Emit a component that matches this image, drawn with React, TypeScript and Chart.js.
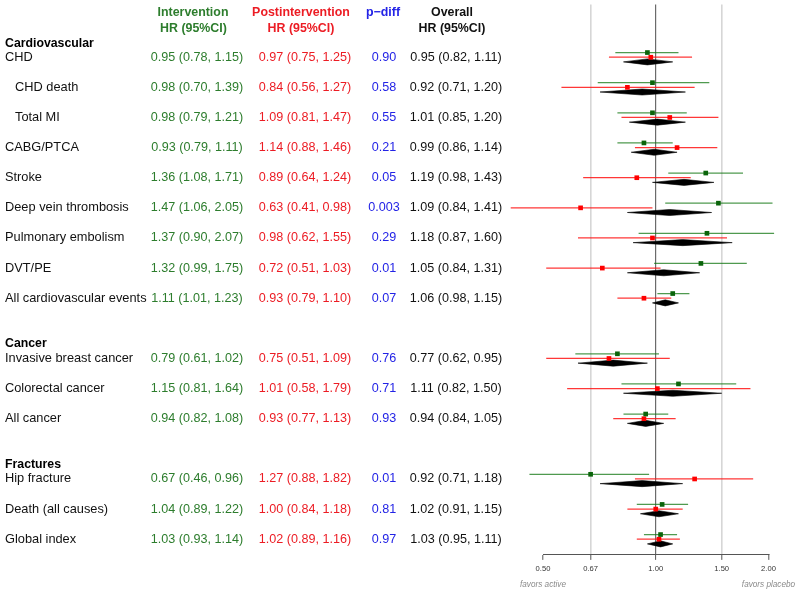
import React, { useEffect, useRef } from 'react';
import { Chart, registerables } from 'chart.js';

Chart.register(...registerables);

// ---------- data ----------
const rowLabels = [
  'CHD', 'CHD death', 'Total MI', 'CABG/PTCA', 'Stroke', 'Deep vein thrombosis',
  'Pulmonary embolism', 'DVT/PE', 'All cardiovascular events',
  'Invasive breast cancer', 'Colorectal cancer', 'All cancer',
  'Hip fracture', 'Death (all causes)', 'Global index',
];
const rowIndex = [0, 1, 2, 3, 4, 5, 6, 7, 8, 10, 11, 12, 14, 15, 16];
const rowIndented = [false, true, true, false, false, false, false, false, false, false, false, false, false, false, false];

const sectionTitles = ['Cardiovascular', 'Cancer', 'Fractures'];
const sectionIndex = [-0.46, 9.52, 13.52];

const intEst = [0.95, 0.98, 0.98, 0.93, 1.36, 1.47, 1.37, 1.32, 1.11, 0.79, 1.15, 0.94, 0.67, 1.04, 1.03];
const intLo = [0.78, 0.70, 0.79, 0.79, 1.08, 1.06, 0.90, 0.99, 1.01, 0.61, 0.81, 0.82, 0.46, 0.89, 0.93];
const intHi = [1.15, 1.39, 1.21, 1.11, 1.71, 2.05, 2.07, 1.75, 1.23, 1.02, 1.64, 1.08, 0.96, 1.22, 1.14];

const postEst = [0.97, 0.84, 1.09, 1.14, 0.89, 0.63, 0.98, 0.72, 0.93, 0.75, 1.01, 0.93, 1.27, 1.00, 1.02];
const postLo = [0.75, 0.56, 0.81, 0.88, 0.64, 0.41, 0.62, 0.51, 0.79, 0.51, 0.58, 0.77, 0.88, 0.84, 0.89];
const postHi = [1.25, 1.27, 1.47, 1.46, 1.24, 0.98, 1.55, 1.03, 1.10, 1.09, 1.79, 1.13, 1.82, 1.18, 1.16];

const pDiff = ['0.90', '0.58', '0.55', '0.21', '0.05', '0.003', '0.29', '0.01', '0.07', '0.76', '0.71', '0.93', '0.01', '0.81', '0.97'];

const ovEst = [0.95, 0.92, 1.01, 0.99, 1.19, 1.09, 1.18, 1.05, 1.06, 0.77, 1.11, 0.94, 0.92, 1.02, 1.03];
const ovLo = [0.82, 0.71, 0.85, 0.86, 0.98, 0.84, 0.87, 0.84, 0.98, 0.62, 0.82, 0.84, 0.71, 0.91, 0.95];
const ovHi = [1.11, 1.20, 1.20, 1.14, 1.43, 1.41, 1.60, 1.31, 1.15, 0.95, 1.50, 1.05, 1.18, 1.15, 1.11];

const xTicks = [0.5, 0.67, 1, 1.5, 2];
const xMin = 0.5;
const xMax = 2;
const favorsLabels = ['favors active', 'favors placebo'];

// ---------- styles ----------
const FONT = "'Liberation Sans', Arial, Helvetica, sans-serif";
const GREEN_TXT = '#2d7d2d';
const RED_TXT = '#ec1c24';
const BLUE_TXT = '#2323e6';
const GREEN_LINE = 'rgba(20,120,20,0.75)';
const RED_LINE = 'rgba(255,20,20,0.85)';
const GREEN_PT = '#0a640a';
const RED_PT = '#ff0000';
const OFF = 0.155; // row offset (in row units) for green line / diamond
const DH = 0.1; // diamond half-height (row units)

const fmt = (e: number, l: number, h: number) => `${e.toFixed(2)} (${l.toFixed(2)}, ${h.toFixed(2)})`;

const tablePlugin = {
  id: 'forestTable',
  afterDraw(chart: any) {
    const ctx = chart.ctx as CanvasRenderingContext2D;
    const ys = chart.scales.y;
    const xs = chart.scales.x;
    ctx.save();
    ctx.textBaseline = 'middle';

    // column headers
    ctx.textAlign = 'center';
    ctx.font = `bold 12.4px ${FONT}`;
    const h1 = ys.getPixelForValue(-1.48);
    const h2 = ys.getPixelForValue(-0.96);
    ctx.fillStyle = GREEN_TXT;
    ctx.fillText('Intervention', 193, h1);
    ctx.fillText('HR (95%CI)', 193.5, h2);
    ctx.fillStyle = RED_TXT;
    ctx.fillText('Postintervention', 301, h1);
    ctx.fillText('HR (95%CI)', 301, h2);
    ctx.fillStyle = BLUE_TXT;
    ctx.fillText('p\u2212diff', 383, h1);
    ctx.fillStyle = '#111';
    ctx.fillText('Overall', 452, h1);
    ctx.fillText('HR (95%CI)', 452, h2);

    // section titles
    ctx.textAlign = 'left';
    ctx.fillStyle = '#000';
    ctx.font = `bold 12.3px ${FONT}`;
    sectionTitles.forEach((t, i) => {
      ctx.fillText(t, 5, ys.getPixelForValue(sectionIndex[i]));
    });

    // rows
    rowLabels.forEach((lab, i) => {
      const y = ys.getPixelForValue(rowIndex[i]);
      ctx.textAlign = 'left';
      ctx.font = `12.8px ${FONT}`;
      ctx.fillStyle = '#111';
      ctx.fillText(lab, rowIndented[i] ? 15 : 5, y);
      ctx.textAlign = 'center';
      ctx.font = `12.6px ${FONT}`;
      ctx.fillStyle = GREEN_TXT;
      ctx.fillText(fmt(intEst[i], intLo[i], intHi[i]), 197, y);
      ctx.fillStyle = RED_TXT;
      ctx.fillText(fmt(postEst[i], postLo[i], postHi[i]), 305, y);
      ctx.fillStyle = BLUE_TXT;
      ctx.fillText(pDiff[i], 384, y);
      ctx.fillStyle = '#111';
      ctx.fillText(fmt(ovEst[i], ovLo[i], ovHi[i]), 456, y);
    });

    // favors labels
    ctx.font = `italic 8.2px ${FONT}`;
    ctx.fillStyle = '#8a8a8a';
    ctx.textAlign = 'center';
    const fy = chart.chartArea.bottom + 30;
    ctx.fillText(favorsLabels[0], xs.getPixelForValue(xMin), fy);
    ctx.fillText(favorsLabels[1], xs.getPixelForValue(xMax), fy);
    ctx.restore();
  },
};

export default function App() {
  const ref = useRef<HTMLCanvasElement | null>(null);

  useEffect(() => {
    if (!ref.current) return;
    const datasets: any[] = [];

    // point estimate markers (drawn on top)
    datasets.push({
      data: rowIndex.map((r, i) => ({ x: intEst[i], y: r - OFF })),
      pointStyle: 'rect', pointRadius: 3.3, backgroundColor: GREEN_PT, borderWidth: 0,
      showLine: false, order: 0, clip: false,
    });
    datasets.push({
      data: rowIndex.map((r, i) => ({ x: postEst[i], y: r })),
      pointStyle: 'rect', pointRadius: 3.3, backgroundColor: RED_PT, borderWidth: 0,
      showLine: false, order: 0, clip: false,
    });

    rowIndex.forEach((r, i) => {
      datasets.push({
        data: [{ x: intLo[i], y: r - OFF }, { x: intHi[i], y: r - OFF }],
        showLine: true, borderColor: GREEN_LINE, borderWidth: 1.3, pointRadius: 0,
        order: 1, clip: false,
      });
      datasets.push({
        data: [{ x: postLo[i], y: r }, { x: postHi[i], y: r }],
        showLine: true, borderColor: RED_LINE, borderWidth: 1.3, pointRadius: 0,
        order: 1, clip: false,
      });
      const d = r + OFF;
      datasets.push({
        data: [
          { x: ovLo[i], y: d }, { x: ovEst[i], y: d - DH }, { x: ovHi[i], y: d },
          { x: ovEst[i], y: d + DH }, { x: ovLo[i], y: d },
        ],
        showLine: true, fill: 'shape', backgroundColor: '#000', borderColor: '#000',
        borderWidth: 0.6, pointRadius: 0, tension: 0, order: 2, clip: false,
      });
    });

    const chart = new Chart(ref.current, {
      type: 'scatter',
      data: { datasets },
      options: {
        responsive: false,
        animation: false,
        events: [],
        layout: { padding: { left: 543, right: 31.5, top: 4.5, bottom: 17 } },
        plugins: { legend: { display: false }, tooltip: { enabled: false } },
        scales: {
          x: {
            type: 'logarithmic',
            min: xMin,
            max: xMax,
            position: 'bottom',
            afterBuildTicks: (s: any) => { s.ticks = xTicks.map((v) => ({ value: v })); },
            ticks: {
              callback: (v: any) => Number(v).toFixed(2),
              font: { size: 7.6, family: FONT },
              color: '#333',
              padding: 4,
              autoSkip: false,
              maxRotation: 0,
            },
            grid: {
              color: (c: any) => {
                const v = c.tick ? c.tick.value : null;
                if (v === 1) return '#6b6b6b';
                if (v === xMin || v === xMax) return 'rgba(0,0,0,0)';
                return '#d6d6d6';
              },
              lineWidth: (c: any) => (c.tick && c.tick.value === 1 ? 1.2 : 1.6),
              tickColor: '#555',
              tickWidth: 1,
              tickLength: 5,
              drawTicks: true,
            },
            border: { display: true, color: '#555', width: 1 },
          },
          y: { type: 'linear', min: -1.75, max: 16.52, reverse: true, display: false },
        },
      },
      plugins: [tablePlugin],
    } as any);
    return () => chart.destroy();
  }, []);

  return (
    <div style={{ position: 'absolute', left: 0, top: 0, width: 800, height: 594, background: '#fff' }}>
      <canvas ref={ref} width={800} height={594} style={{ display: 'block' }} />
    </div>
  );
}
